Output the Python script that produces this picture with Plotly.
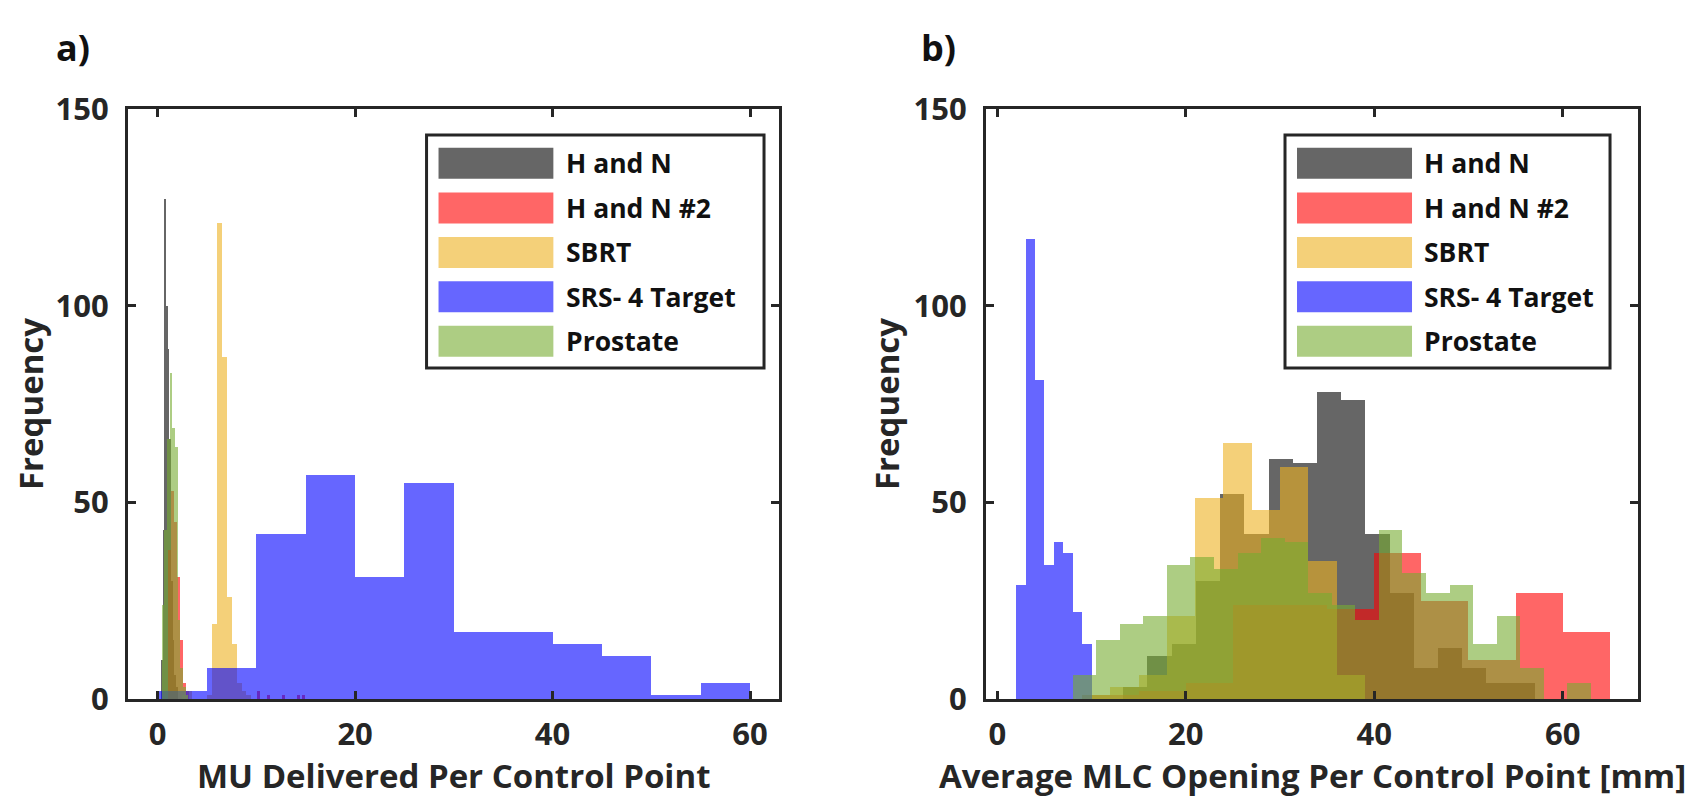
import plotly.graph_objects as go

# ---------------- data (histogram bins: start, width, counts) ----------------
series_names = ["H and N", "H and N #2", "SBRT", "SRS- 4 Target", "Prostate"]
series_rgb = [(0, 0, 0), (255, 0, 0), (237, 177, 32), (0, 0, 255), (119, 172, 48)]

# panel a) MU delivered per control point
a_hn_start, a_hn_width = 0.33, 0.17
a_hn_counts = [10, 43, 127, 100, 89, 66, 30, 15, 6, 3]
a_hn2_start, a_hn2_width = 1.1, 0.3
a_hn2_counts = [38, 53, 45, 31, 15, 4, 2]
a_hn2_out_x = [10.05, 11.05, 12.6, 14.1, 14.6]
a_hn2_out_counts = [2, 1, 1, 1, 1]
a_sbrt_start, a_sbrt_width = 2.5, 0.5
a_sbrt_counts = [1, 2, 0, 0, 0, 1, 19, 121, 87, 26, 14, 4, 2, 1]
a_srs_start, a_srs_width = 0.0, 5.0
a_srs_counts = [2, 8, 42, 57, 31, 55, 17, 17, 14, 11, 1, 4]
a_pro_start, a_pro_width = 0.4, 0.27
a_pro_counts = [24, 43, 66, 83, 69, 64, 20, 8, 3, 1]

# panel b) average MLC opening per control point [mm]
b_hn_start, b_hn_width = 10.8, 2.57
b_hn_counts = [0, 3, 11, 14, 30, 52, 42, 61, 60, 78, 76, 42, 27, 8, 13, 8, 4, 4]
b_hn2_start, b_hn2_width = 10.0, 5.0
b_hn2_counts = [1, 2, 4, 24, 24, 23, 37, 25, 10, 27, 17]
b_sbrt_start, b_sbrt_width = 9.0, 3.0
b_sbrt_counts = [1, 3, 6, 21, 51, 65, 48, 59, 35, 6]
b_srs_start, b_srs_width = 2.0, 1.0
b_srs_counts = [29, 117, 81, 34, 40, 37, 22, 14]
b_pro_start, b_pro_width = 8.0, 2.5
b_pro_counts = [6, 15, 19, 21, 34, 36, 33, 37, 41, 40, 27, 24, 20, 43, 32, 27, 29,
                14, 21, 8, 0, 4]

x_ticks = [0, 20, 40, 60]
y_ticks = [0, 50, 100, 150]
a_xrange = [-3.0, 62.93]
b_xrange = [-1.2, 68.0]
y_range = [0, 150]
a_xlabel = "MU Delivered Per Control Point"
b_xlabel = "Average MLC Opening Per Control Point [mm]"
y_label = "Frequency"
panel_labels = ["a)", "b)"]

# ---------------- figure ----------------
W, H = 1694, 796
OFF = 8  # the page body margin shifts the figure by this many pixels
FONT = "Open Sans"
INK = "#262626"
ALPHA = 0.6


def rgba(rgb, a=ALPHA):
    return "rgba(%d,%d,%d,%.2f)" % (rgb[0], rgb[1], rgb[2], a)


fig = go.Figure()


def add_hist(start, width, counts, rgb, xa, ya, name):
    lefts = [start + i * width for i in range(len(counts))]
    fig.add_trace(go.Bar(
        x=lefts, y=counts, width=[width] * len(counts), offset=0,
        marker=dict(color=rgba(rgb), line=dict(width=0)),
        xaxis=xa, yaxis=ya, name=name, showlegend=False,
    ))


def add_points(xs, counts, width, rgb, xa, ya, name):
    fig.add_trace(go.Bar(
        x=xs, y=counts, width=[width] * len(counts), offset=0,
        marker=dict(color=rgba(rgb), line=dict(width=0)),
        xaxis=xa, yaxis=ya, name=name, showlegend=False,
    ))


# panel a
add_hist(a_hn_start, a_hn_width, a_hn_counts, series_rgb[0], "x", "y", series_names[0])
add_hist(a_hn2_start, a_hn2_width, a_hn2_counts, series_rgb[1], "x", "y", series_names[1])
add_points(a_hn2_out_x, a_hn2_out_counts, a_hn2_width, series_rgb[1], "x", "y", series_names[1])
add_hist(a_sbrt_start, a_sbrt_width, a_sbrt_counts, series_rgb[2], "x", "y", series_names[2])
add_hist(a_srs_start, a_srs_width, a_srs_counts, series_rgb[3], "x", "y", series_names[3])
add_hist(a_pro_start, a_pro_width, a_pro_counts, series_rgb[4], "x", "y", series_names[4])
# panel b
add_hist(b_hn_start, b_hn_width, b_hn_counts, series_rgb[0], "x2", "y2", series_names[0])
add_hist(b_hn2_start, b_hn2_width, b_hn2_counts, series_rgb[1], "x2", "y2", series_names[1])
add_hist(b_sbrt_start, b_sbrt_width, b_sbrt_counts, series_rgb[2], "x2", "y2", series_names[2])
add_hist(b_srs_start, b_srs_width, b_srs_counts, series_rgb[3], "x2", "y2", series_names[3])
add_hist(b_pro_start, b_pro_width, b_pro_counts, series_rgb[4], "x2", "y2", series_names[4])

# plot-area geometry (page pixels of the 1694x796 screenshot)
ax_a = (128, 779)
ax_b = (986, 1638)
ax_top, ax_bot = 109, 699


def fx(px):
    return (px - OFF) / W


def fy(py):
    return 1 - (py - OFF) / H


tickfont = dict(family=FONT, size=31, color=INK, weight="bold")
common_x = dict(tickmode="array", tickvals=x_ticks, ticks="inside", ticklen=8, tickwidth=2.5,
                tickcolor=INK, showline=True, linewidth=3, linecolor=INK, mirror="ticks",
                showgrid=False, zeroline=False, tickfont=tickfont, ticklabelstandoff=6,
                automargin=False)
common_y = dict(tickmode="array", tickvals=y_ticks, range=y_range, ticks="inside", ticklen=8,
                tickwidth=2.5, tickcolor=INK, showline=True, linewidth=3, linecolor=INK,
                mirror="ticks", showgrid=False, zeroline=False, tickfont=tickfont,
                ticklabelstandoff=10, automargin=False)

fig.update_layout(
    width=W, height=H, margin=dict(l=0, r=0, t=0, b=0, autoexpand=False),
    paper_bgcolor="white", plot_bgcolor="white", barmode="overlay", bargap=0,
    xaxis=dict(domain=[fx(ax_a[0]), fx(ax_a[1])], range=a_xrange, anchor="y", **common_x),
    yaxis=dict(domain=[fy(ax_bot), fy(ax_top)], anchor="x", **common_y),
    xaxis2=dict(domain=[fx(ax_b[0]), fx(ax_b[1])], range=b_xrange, anchor="y2", **common_x),
    yaxis2=dict(domain=[fy(ax_bot), fy(ax_top)], anchor="x2", **common_y),
    showlegend=False,
)

annotations = []
shapes = []
title_font = dict(family=FONT, size=33, color=INK, weight="bold")
# axis titles
for (x0, x1), xl in [(ax_a, a_xlabel), (ax_b, b_xlabel)]:
    annotations.append(dict(text=xl, x=fx((x0 + x1) / 2), y=fy(775), xref="paper", yref="paper",
                            xanchor="center", yanchor="middle", showarrow=False, font=title_font))
for cx in [30, 886]:
    annotations.append(dict(text=y_label, x=fx(cx), y=fy((ax_top + ax_bot) / 2), xref="paper",
                            yref="paper", xanchor="center", yanchor="middle", textangle=-90,
                            showarrow=False, font=title_font))
# panel labels
for cx, lab in zip([73, 938], panel_labels):
    annotations.append(dict(text=lab, x=fx(cx), y=fy(47), xref="paper", yref="paper",
                            xanchor="center", yanchor="middle", showarrow=False,
                            font=dict(family=FONT, size=36, color="#111", weight="bold")))

# legends (drawn in axis-domain coordinates)
leg_font = dict(family=FONT, size=26.5, color="#111", weight="bold")
span = ax_bot - ax_top
row_y = [163.3, 208.0, 252.4, 296.8, 341.2]
for xs in ["x", "x2"]:
    ys = "y" if xs == "x" else "y2"
    box = (0.4586, 0.977) if xs == "x" else (0.4586, 0.9571)
    shapes.append(dict(type="rect", xref=xs + " domain", yref=ys + " domain",
                       x0=box[0], x1=box[1], y0=(ax_bot - 368) / span, y1=(ax_bot - 135) / span,
                       line=dict(color=INK, width=3), fillcolor="white", layer="above"))
    for i, name in enumerate(series_names):
        yc = (ax_bot - row_y[i]) / span
        hh = 15.5 / span
        shapes.append(dict(type="rect", xref=xs + " domain", yref=ys + " domain",
                           x0=0.4770, x1=0.6534, y0=yc - hh, y1=yc + hh,
                           line=dict(width=0), fillcolor=rgba(series_rgb[i]), layer="above"))
        annotations.append(dict(text=name, x=0.6690, y=yc, xref=xs + " domain",
                                yref=ys + " domain", xanchor="left", yanchor="middle",
                                showarrow=False, font=leg_font))

fig.update_layout(annotations=annotations, shapes=shapes)
fig.write_html("out.html")
